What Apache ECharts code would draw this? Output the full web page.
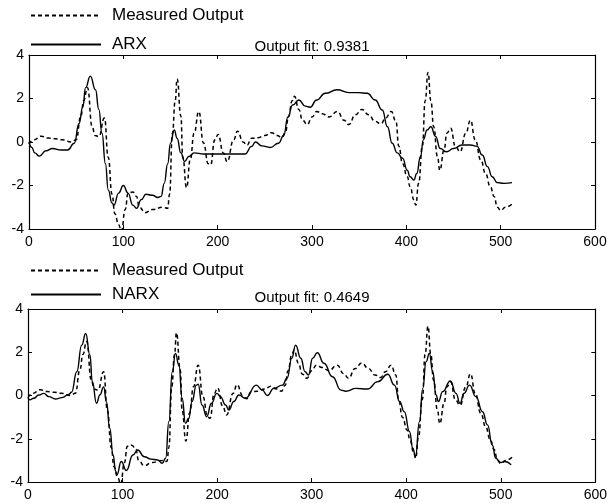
<!DOCTYPE html>
<html>
<head>
<meta charset="utf-8">
<script src="https://cdn.jsdelivr.net/npm/echarts@6/dist/echarts.min.js"></script>
<style>
html,body{margin:0;padding:0;background:#fff;}
#chart{width:610px;height:503px;}
</style>
</head>
<body>
<div id="chart"></div>
<script>
// Measured output (same signal in both panels)
const measX = [0,5,13,20,28,35,45,50,55,58,62,67,70,74,80,84,88,91,95,98,102,105,110,114,117,123,131,142,147,149,152,155,157,161,163,167,171,175,180,185,190,192.5,197,200.5,206,210,217,221,227,231,236,243,250,257,263,268,272,275,279,281.5,286,290,295,300,305,311,318,327,334,339,346,353,360,367,373,378,384,389,392,396,401,404,408,410,413,417,420,423,426,429,433,435.5,440,443,447,452,457,463,468,473,479,484,489,493,496.5,500,505,512];
const measY = [-0.1,0.1,0.27,0.18,0.15,0.1,0.0,0.1,1.2,1.9,2.5,0.7,0.3,0.25,1.1,-0.7,-2.4,-3.3,-3.8,-4.1,-3.1,-2.35,-2.3,-2.5,-3.0,-3.25,-3.1,-3.0,-3.05,-2.4,0.4,1.9,2.9,1.2,-0.7,-2.1,-0.8,0.4,1.4,-0.05,-1.0,-1.05,0.1,0.35,-0.5,-0.9,0.1,0.5,0.0,-0.15,0.17,0.2,0.3,0.43,0.3,0.2,0.47,1.15,1.9,2.1,1.5,1.0,0.8,1.15,1.4,1.3,1.15,1.4,1.0,0.8,1.25,1.5,1.25,0.95,0.83,1.1,1.4,0.95,-0.2,-1.0,-1.6,-2.05,-2.65,-2.9,-1.9,-0.2,1.9,3.2,1.9,0.7,-0.67,-1.3,-0.37,0.4,0.63,-0.2,-0.45,0.4,1.0,0.1,-0.83,-1.45,-2.05,-2.5,-3.0,-3.15,-3.0,-2.85];

// ARX model output
const arxX = [0,3,6,11,18,25,34,41,48,53,57,60,65,70.5,74,77.4,81,84,88,90,95,100,105,110,114,119,124,131,136.5,140,143.4,147,150,154,157,161,165,169.4,175,185,200,215,229,236,240,247,255.7,264.5,270,274.5,279.4,286,293,298,305,314,326.6,339,349.6,358.5,367,374.5,380,385,390.4,396,401,404,408,411,415,418,422,426,431,436,442.5,450,459,468,475,480.5,486,491,496.5,503.5,512];
const arxY = [0.0,-0.25,-0.5,-0.65,-0.4,-0.3,-0.37,-0.37,-0.06,0.85,1.6,2.5,3.03,2.4,1.5,0.4,-1.0,-2.2,-2.8,-2.9,-2.35,-2.0,-2.35,-2.9,-3.05,-2.65,-2.4,-2.45,-2.55,-2.5,-1.9,-1.0,-0.06,0.55,0.17,-0.5,-0.9,-0.67,-0.5,-0.55,-0.55,-0.55,-0.55,-0.2,0.0,-0.18,-0.25,-0.06,0.3,1.15,1.7,1.93,1.65,1.6,1.93,2.24,2.4,2.27,2.27,2.24,1.93,1.47,0.7,-0.06,-0.5,-0.75,-1.3,-1.6,-1.75,-1.45,-0.67,0.1,0.55,0.7,0.25,-0.3,-0.45,-0.3,-0.14,-0.14,-0.2,-0.6,-1.13,-1.6,-1.87,-1.9,-1.87];

// NARX model output
const narxX = [0,2,6,11.5,16.7,22,29,36,43,46,51.6,56.8,61,65.5,68,72.5,76,80,83,86.4,90,92.7,94,98.6,104,111,116,123,130,137,142,145.6,149,152.6,156,159.6,163,166.6,170,173.5,178,180,184,189,194,199.7,203.5,209,212.4,217.7,223,230,241.4,247.8,253,260,269,274,279,283,288.5,293,296.6,301,306,313,322,331,336,347,359,370,380.5,387.6,393,398,403.5,407,409.8,414,417.5,421,424.5,428,431.6,434,438.6,446.7,452.6,457,461,467,473.7,480.7,486,491,494.7,500,504,511];
const narxY = [-0.1,-0.2,-0.13,0.02,0.1,-0.05,-0.16,-0.1,0.05,0.15,1.1,2.33,2.87,1.87,0.64,-0.36,0.02,0.4,-0.3,-1.5,-2.75,-3.5,-3.67,-3.05,-3.47,-2.75,-2.52,-2.83,-2.94,-2.98,-3.13,-2.9,-1.2,1.1,1.95,1.4,-0.13,-1.29,-1.05,-0.28,0.48,0.52,-0.44,-0.98,-0.36,0.1,-0.05,-0.44,-0.67,-0.28,0.02,-0.13,0.48,0.25,0.0,0.33,0.48,0.8,1.72,2.33,1.72,1.1,0.95,1.72,1.98,1.49,0.87,0.25,0.2,0.33,0.3,0.64,0.98,0.48,-0.28,-0.75,-1.67,-2.44,-2.83,-1.21,0.33,1.56,1.95,1.1,0.02,-0.28,0.18,0.67,0.1,-0.36,0.1,0.48,-0.05,-0.75,-1.36,-2.29,-2.9,-3.1,-3.05,-3.2];

const xTicks = [0,100,200,300,400,500,600];
const yTicks = [-4,-2,0,2,4];
const fitTexts = ['Output fit: 0.9381','Output fit: 0.4649'];
const legendNames = [['Measured Output','ARX'],['Measured Output','NARX']];

function pairs(xs, ys){ return xs.map((x,i)=>[x, ys[i]]); }

const FONT = 'Liberation Sans, Arial, Helvetica, sans-serif';
const txt = {color:'#000', fontFamily:FONT, fontSize:14};

function xAx(g, pos, labels){
  return {type:'value', gridIndex:g, position:pos, min:xTicks[0], max:xTicks[xTicks.length-1], interval:100,
    axisLine:{show:true, onZero:false, lineStyle:{color:'#000', width:1.2}},
    axisTick:{show:true, inside:true, length:4, lineStyle:{color:'#000'}},
    axisLabel:Object.assign({show:labels, margin:6}, txt),
    splitLine:{show:false}};
}
function yAx(g, pos, labels){
  return {type:'value', gridIndex:g, position:pos, min:yTicks[0], max:yTicks[yTicks.length-1], interval:2,
    axisLine:{show:true, onZero:false, lineStyle:{color:'#000', width:1.2}},
    axisTick:{show:true, inside:true, length:4, lineStyle:{color:'#000'}},
    axisLabel:Object.assign({show:labels, margin:5}, txt),
    splitLine:{show:false}};
}
const dashStyle = {color:'#000', width:1.5, type:[4,3]};
const solidStyle = {color:'#000', width:1.4, type:'solid'};
function ser(name, xi, yi, data, style){
  return {name:name, type:'line', xAxisIndex:xi, yAxisIndex:yi, data:data, symbol:'none',
    smooth:0.5, smoothMonotone:'x', lineStyle:style, itemStyle:{color:'#000'}, animation:false};
}

const option = {
  animation:false,
  backgroundColor:'#fff',
  title:[
    {text:fitTexts[0], left:312, top:39, textAlign:'center', padding:0, textStyle:{color:'#000', fontFamily:FONT, fontSize:15, fontWeight:'normal'}},
    {text:fitTexts[1], left:312, top:290, textAlign:'center', padding:0, textStyle:{color:'#000', fontFamily:FONT, fontSize:15, fontWeight:'normal'}}
  ],
  legend:[
    {data:legendNames[0], orient:'vertical', left:30, top:7, padding:0, itemWidth:70, itemHeight:16, itemGap:12,
      itemStyle:{opacity:0}, textStyle:{color:'#000', fontFamily:FONT, fontSize:17, padding:[0,0,0,6]}, selectedMode:false},
    {data:legendNames[1], orient:'vertical', left:30, top:262, padding:0, itemWidth:70, itemHeight:16, itemGap:7,
      itemStyle:{opacity:0}, textStyle:{color:'#000', fontFamily:FONT, fontSize:17, padding:[0,0,0,6]}, selectedMode:false}
  ],
  grid:[
    {left:29, top:55, width:566, height:174, show:false},
    {left:28, top:309, width:568, height:173, show:false}
  ],
  xAxis:[xAx(0,'bottom',true), xAx(0,'top',false), xAx(1,'bottom',true), xAx(1,'top',false)],
  yAxis:[yAx(0,'left',true), yAx(0,'right',false), yAx(1,'left',true), yAx(1,'right',false)],
  series:[
    ser(legendNames[0][0], 0, 0, pairs(measX, measY), dashStyle),
    ser(legendNames[0][1], 0, 0, pairs(arxX, arxY), solidStyle),
    ser(legendNames[1][0], 2, 2, pairs(measX, measY), dashStyle),
    ser(legendNames[1][1], 2, 2, pairs(narxX, narxY), solidStyle)
  ]
};
const chart = echarts.init(document.getElementById('chart'), null, {renderer:'canvas'});
chart.setOption(option);
</script>
</body>
</html>
